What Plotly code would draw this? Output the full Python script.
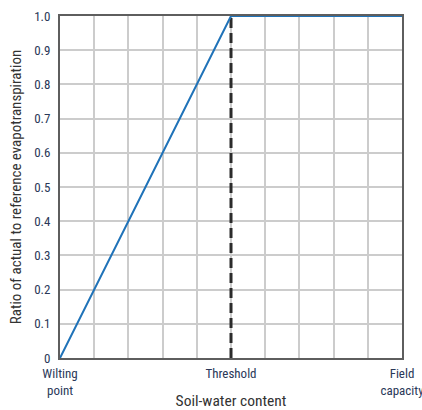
import plotly.graph_objects as go

x_vals = [0, 5, 10]
y_vals = [0, 1, 1]
threshold = 5
x_tickvals = [0, 1, 2, 3, 4, 5, 6, 7, 8, 9, 10]
x_ticktext = ["Wilting<br>point", "", "", "", "", "Threshold", "", "", "", "", "Field<br>capacity"]
y_tickvals = [0, 0.1, 0.2, 0.3, 0.4, 0.5, 0.6, 0.7, 0.8, 0.9, 1.0]
y_ticktext = ["0", "0.1", "0.2", "0.3", "0.4", "0.5", "0.6", "0.7", "0.8", "0.9", "1.0"]

font_fam = "Roboto Condensed, Liberation Sans Narrow, Arial Narrow, sans-serif"
tick_color = "#2a3858"

fig = go.Figure()
fig.add_trace(go.Scatter(x=[threshold, threshold], y=[0, 1], mode="lines",
                         line=dict(color="#2b2b2b", width=3, dash="10px,5px"),
                         showlegend=False, hoverinfo="skip"))
fig.add_trace(go.Scatter(x=x_vals, y=y_vals, mode="lines",
                         line=dict(color="#1f72b8", width=2), showlegend=False,
                         hoverinfo="skip", cliponaxis=False))

fig.update_layout(
    width=422, height=410,
    margin=dict(l=60, r=20, t=16, b=52),
    plot_bgcolor="white", paper_bgcolor="white",
    font=dict(family=font_fam, size=13, color="#333333"),
)
fig.update_xaxes(
    range=[0, 10], tickvals=x_tickvals, ticktext=x_ticktext,
    showgrid=True, gridcolor="#cccccc", gridwidth=2,
    showline=True, linecolor="#5e5e5e", linewidth=2, mirror=True,
    layer="below traces", ticklabeloverflow="allow", automargin=False,
    ticks="outside", ticklen=2, tickcolor="rgba(0,0,0,0)",
    tickfont=dict(family=font_fam, size=13, color=tick_color),
    zeroline=False,
    title=dict(text="Soil-water content", font=dict(family=font_fam, size=15.5, color="#333333"), standoff=4),
)
fig.update_yaxes(
    range=[0, 1], tickvals=y_tickvals, ticktext=y_ticktext,
    showgrid=True, gridcolor="#cccccc", gridwidth=2,
    showline=True, linecolor="#5e5e5e", linewidth=2, mirror=True,
    layer="below traces", ticklabeloverflow="allow", automargin=False,
    ticks="outside", ticklen=5, tickcolor="rgba(0,0,0,0)",
    tickfont=dict(family=font_fam, size=13, color=tick_color),
    zeroline=False,
    title=dict(text="Ratio of actual to reference evapotranspiration", font=dict(family=font_fam, size=15, color="#333333"), standoff=9),
)
fig.write_html("out.html", config={"staticPlot": True},
               post_script="document.body.style.margin='0';")
